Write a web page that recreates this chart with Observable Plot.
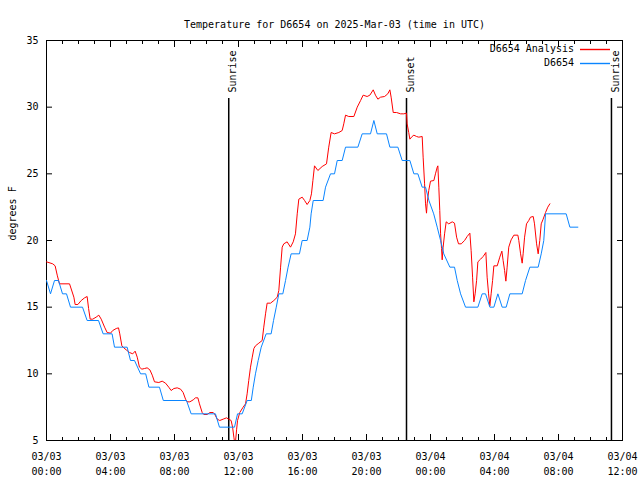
<!DOCTYPE html>
<html><head><meta charset="utf-8">
<script src="https://cdn.jsdelivr.net/npm/d3@7"></script>
<script src="https://cdn.jsdelivr.net/npm/@observablehq/plot@0.6"></script>
<style>body{margin:0;background:#fff}</style>
</head><body><div id="chart"></div>
<script>
const titleText = "Temperature for D6654 on 2025-Mar-03 (time in UTC)";
const yLabelText = "degrees F";
const baseDate = "2025-03-03T00:00:00Z";

const analysisHours = [0,0.39,0.54,0.67,0.81,1.44,1.71,1.79,1.96,2.17,
2.38,2.54,2.63,2.73,2.89,3.1,3.27,3.42,3.63,3.79,
4.0,4.14,4.36,4.5,4.58,4.71,4.83,4.98,5.19,5.39,
5.54,5.67,5.81,5.96,6.13,6.29,6.46,6.61,6.75,7.02,
7.23,7.44,7.64,7.79,7.96,8.17,8.38,8.54,8.69,8.79,
8.96,9.17,9.31,9.46,9.56,9.73,9.83,10.04,10.21,10.42,
10.5,10.67,10.83,11.04,11.25,11.39,11.54,11.63,11.71,11.79,
11.88,11.94,12.08,12.29,12.44,12.54,12.64,12.75,12.86,12.96,
13.06,13.27,13.48,13.58,13.69,13.79,14.0,14.21,14.42,14.52,
14.63,14.73,14.83,15.04,15.25,15.42,15.56,15.67,15.77,15.98,
16.13,16.29,16.46,16.56,16.65,16.75,16.96,17.23,17.5,17.64,
17.79,18.0,18.27,18.48,18.58,18.69,18.89,19.21,19.42,19.63,
19.79,20.04,20.21,20.42,20.56,20.71,20.88,21.13,21.33,21.46,
21.54,21.67,21.88,22.13,22.33,22.5,22.54,22.64,22.71,22.85,
22.96,23.13,23.27,23.48,23.54,23.63,23.69,23.75,23.79,23.89,
24.0,24.21,24.31,24.42,24.46,24.52,24.58,24.63,24.69,24.73,
24.79,24.88,24.98,25.14,25.36,25.5,25.63,25.75,25.92,26.13,
26.29,26.46,26.54,26.63,26.71,26.79,26.88,26.96,27.13,27.29,
27.46,27.54,27.63,27.71,27.79,27.88,27.96,28.17,28.33,28.46,
28.54,28.63,28.71,28.79,28.89,29.04,29.21,29.46,29.52,29.63,
29.73,29.79,29.88,30.0,30.14,30.25,30.42,30.5,30.63,30.73,
30.83,30.92,31.04,31.19,31.33,31.46];
const analysisTemps = [18.4,18.25,18.1,17.4,16.75,16.75,15.75,15.2,15.2,15.5,
15.7,15.8,14.9,14.1,14.1,14.25,14.4,14.1,13.5,13.1,
13.05,13.25,13.4,13.45,13.0,12.1,11.95,11.8,11.6,11.5,
11.7,11.25,10.5,10.35,10.4,10.45,10.3,9.9,9.4,9.35,
9.45,9.3,9.0,8.75,8.9,8.95,8.85,8.6,8.1,7.9,
7.9,8.05,8.2,8.2,7.75,7.1,6.95,6.95,7.1,7.1,
7.0,6.6,6.5,6.6,6.7,6.6,6.5,6.0,5.25,4.6,
5.8,6.5,7.1,7.5,7.75,8.5,9.5,10.5,11.25,11.9,
12.1,12.3,12.5,13.5,14.5,15.3,15.3,15.5,15.75,16.25,
18,19.5,19.75,19.9,19.5,19.9,20.5,22,23.1,23.25,
23,22.7,23,23.5,24.5,25.6,25.25,25.55,25.75,27,
28.1,28,28.1,28.25,28.75,29.4,29.3,29.3,30,30.5,
30.9,30.8,30.9,31.3,30.9,30.6,30.75,30.8,31.0,31.3,
30.75,29.6,29.6,29.5,29.5,29.55,28.75,28.1,27.6,27.8,
27.9,27.8,27.75,27.8,26.25,24.25,22.75,22.05,22.75,23.75,
24.45,24.5,25,25.5,25.6,24,22.25,20.5,19.4,18.55,
19.5,20.5,21.4,21.25,21.4,21.3,20.25,19.75,19.75,20,
20.3,20.55,19.25,17.25,15.4,16,17,18.4,18.6,18.8,
19.1,17.25,16,15.1,16,17,18.1,18.1,18.75,19.2,
18.5,17.75,16.95,18,19.5,20.05,20.4,20.4,20,19,
18.3,19,20.25,21.25,21.5,21.75,21.8,21.25,19.75,19,
20,21.25,21.6,22.1,22.5,22.75];

const obsHours = [0,0.25,0.5,0.75,1.0,1.25,1.5,2.25,2.54,3.25,
3.54,4.1,4.25,5.04,5.25,5.5,5.88,6.2,6.4,7.06,
7.3,8.75,9.04,10.56,10.81,11.75,11.94,12.23,12.54,12.8,
12.92,13.06,13.23,13.42,13.73,14.04,14.19,14.36,14.52,14.77,
14.94,15.1,15.29,15.81,15.98,16.29,16.46,16.54,16.67,17.29,
17.44,17.75,18.0,18.17,18.48,18.69,19.46,19.73,20.25,20.46,
20.67,21.25,21.46,21.96,22.23,22.71,22.96,23.21,23.48,23.69,
23.9,24.2,24.42,24.63,24.83,25.21,25.5,25.67,25.88,26.19,
26.96,27.23,27.44,27.71,27.96,28.21,28.48,28.73,28.96,29.73,
29.94,30.21,30.73,30.92,31.08,31.19,32.48,32.71,33.21];
const obsTemps = [17,16,17,17,16,16,15,15,14,14,
13,13,12,12,11,11,10,10,9,9,
8,8,7,7,6,6,7,7,8,8,
9,10,11,12,13,13,14,15,16,16,
17,18,19,19,20,20,21,22,23,23,
24,25,25,26,26,27,27,28,28,29,
28,28,27,27,26,26,25,25,24,24,
23,22,21,20,19,18,18,17,16,15,
15,16,16,15,15,16,15,15,16,16,
17,18,18,19,20,22,22,21,21];

const eventHours = [11.39, 22.5, 35.31];
const eventLabels = ["Sunrise", "Sunset", "Sunrise"];

const majorTickHours = [0,4,8,12,16,20,24,28,32,36];
const minorTickHours = [0,1,2,3,4,5,6,7,8,9,10,11,12,13,14,15,16,17,18,19,20,21,22,23,24,25,26,27,28,29,30,31,32,33,34,35,36];
const yTicks = [5,10,15,20,25,30,35];

const seriesNames = ["D6654 Analysis", "D6654"];
const seriesColors = ["#ff0000", "#0a85ff"];

const FONT = "DejaVu Sans Mono";
const t0 = new Date(baseDate).getTime();
const toDate = h => new Date(t0 + h * 3600e3);

const analysis = analysisHours.map((h, i) => ({t: toDate(h), v: analysisTemps[i]}));
const obs = obsHours.map((h, i) => ({t: toDate(h), v: obsTemps[i]}));
const events = eventHours.map((h, i) => ({t: toDate(h), label: eventLabels[i]}));
const majors = majorTickHours.map(toDate);
const minors = minorTickHours.map(toDate);
const blank = () => "";

const legendEntries = seriesNames.map((name, i) => ({name, color: seriesColors[i], i}));

const legend = (index, scales, values, dims) => {
  const ns = "http://www.w3.org/2000/svg";
  const g = document.createElementNS(ns, "g");
  const xr = dims.width - dims.marginRight;
  legendEntries.forEach(({name, color, i}) => {
    const yy = dims.marginTop + 9 + i * 14;
    const t = document.createElementNS(ns, "text");
    t.setAttribute("x", xr - 48);
    t.setAttribute("y", yy);
    t.setAttribute("dy", "0.32em");
    t.setAttribute("text-anchor", "end");
    t.setAttribute("fill", "black");
    t.textContent = name;
    g.appendChild(t);
    const p = document.createElementNS(ns, "path");
    p.setAttribute("d", `M${xr - 42},${yy + 0.5}H${xr - 12}`);
    p.setAttribute("fill", "none");
    p.style.stroke = color;
    p.style.strokeWidth = "1.4";
    g.appendChild(p);
  });
  return g;
};

const chart = Plot.plot({
  width: 640, height: 480,
  marginLeft: 46, marginRight: 18, marginTop: 40, marginBottom: 40,
  style: {fontFamily: FONT, fontSize: "10px", background: "white", color: "black"},
  x: {type: "utc", domain: [toDate(0), toDate(36)]},
  y: {domain: [5, 35]},
  marks: [
    Plot.frame({stroke: "black"}),
    Plot.axisX({anchor: "bottom", ticks: minors, tickSize: -3, tickFormat: blank, label: null}),
    Plot.axisX({anchor: "top", ticks: minors, tickSize: -3, tickFormat: blank, label: null}),
    Plot.axisX({anchor: "bottom", ticks: majors, tickSize: -6, tickFormat: blank, label: null}),
    Plot.axisX({anchor: "top", ticks: majors, tickSize: -6, tickFormat: blank, label: null}),
    Plot.axisX({anchor: "bottom", ticks: majors, tickSize: 0, tickPadding: 9, lineHeight: 1.5, fontSize: 10,
      tickFormat: d3.utcFormat("%m/%d\n%H:%M"), label: null}),
    Plot.axisY({anchor: "left", ticks: yTicks, tickSize: -6, tickFormat: blank, label: null}),
    Plot.axisY({anchor: "right", ticks: yTicks, tickSize: -6, tickFormat: blank, label: null}),
    Plot.axisY({anchor: "left", ticks: yTicks, tickSize: 0, tickPadding: 8, fontSize: 10, label: null}),
    Plot.ruleX(events, {x: "t", insetTop: 58, stroke: "black", strokeWidth: 1.5}),
    Plot.text(events, {x: "t", text: "label", frameAnchor: "top", dy: 52, rotate: -90, textAnchor: "start", fontSize: 10, fill: "black"}),
    Plot.line(analysis, {x: "t", y: "v", stroke: seriesColors[0], strokeWidth: 1, clip: true}),
    Plot.line(obs, {x: "t", y: "v", stroke: seriesColors[1], strokeWidth: 1, clip: true}),
    Plot.text([titleText], {text: d => d, frameAnchor: "top", dy: -20, fontSize: 10, fill: "black"}),
    Plot.text([yLabelText], {text: d => d, frameAnchor: "left", dx: -34, rotate: -90, fontSize: 10, fill: "black"}),
    legend
  ]
});
document.getElementById("chart").appendChild(chart);
</script>
</body></html>
